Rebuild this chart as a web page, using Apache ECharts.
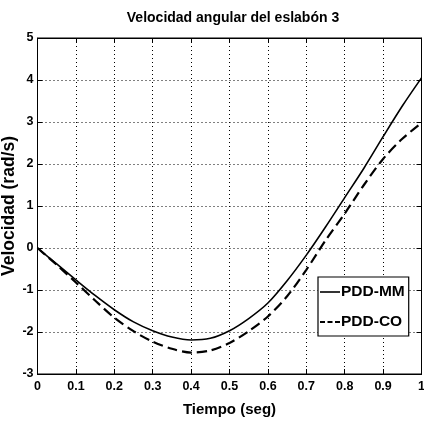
<!DOCTYPE html>
<html><head><meta charset="utf-8">
<script src="https://cdn.jsdelivr.net/npm/echarts@6/dist/echarts.min.js"></script>
<style>html,body{margin:0;padding:0;background:#fff}#c{width:424px;height:425px}</style>
</head><body><div id="c"></div>
<script>
var title = 'Velocidad angular del eslabón 3';
var xName = 'Tiempo (seg)';
var yName = 'Velocidad (rad/s)';
var time = [0,0.05,0.1,0.15,0.2,0.25,0.3,0.35,0.4,0.45,0.5,0.55,0.6,0.65,0.7,0.75,0.8,0.85,0.9,0.95,1.0];
var pddMM = [0,-0.38,-0.76,-1.13,-1.47,-1.76,-1.97,-2.12,-2.19,-2.15,-1.97,-1.68,-1.31,-0.78,-0.17,0.5,1.2,1.9,2.65,3.38,4.05];
var pddCO = [0,-0.40,-0.82,-1.25,-1.66,-1.98,-2.23,-2.40,-2.49,-2.44,-2.26,-1.98,-1.63,-1.15,-0.52,0.18,0.82,1.5,2.12,2.6,2.98];
var seriesNames = ['PDD-MM','PDD-CO'];

function pairs(xs, ys){ return xs.map(function(x,i){return [x, ys[i]];}); }
var narrow = '"Liberation Sans Narrow", "Arial Narrow", "Liberation Sans", Arial, sans-serif';
var chart = echarts.init(document.getElementById('c'));
var tickLabel = {color:'#000', fontFamily:narrow, fontWeight:'bold', fontSize:12.5};
var solidIcon = 'path://M0,4.2H20V5.8H0Z';
var dashIcon = 'path://M0,4H5V6H0ZM7.5,4H12.5V6H7.5ZM15,4H20V6H15Z';
chart.setOption({
  animation:false,
  backgroundColor:'#fff',
  title:{text:title, left:228, top:6, textAlign:'center',
    textStyle:{fontFamily:narrow, fontWeight:'bold', fontSize:14, color:'#000'}},
  grid:{left:37.5, right:2.5, top:38, bottom:51, show:true, borderColor:'#000', borderWidth:1,
    backgroundColor:'#fff', containLabel:false, outerBoundsMode:'none'},
  legend:{data:[{name:seriesNames[0], icon:solidIcon},{name:seriesNames[1], icon:dashIcon}],
    orient:'vertical', left:318, top:277,
    backgroundColor:'#fff', borderColor:'#000', borderWidth:1.2, padding:[7,4,6,2],
    itemWidth:20, itemHeight:10, itemGap:14,
    textStyle:{fontFamily:narrow, fontWeight:'bold', fontSize:15.5, color:'#000', padding:[0,0,0,-4]}},
  xAxis:[{type:'value', min:0, max:1, interval:0.1,
    name:xName, nameLocation:'middle', nameGap:28, nameMoveOverlap:false,
    nameTextStyle:{fontFamily:narrow, fontWeight:'bold', fontSize:15, color:'#000'},
    axisLine:{show:true, onZero:false, lineStyle:{color:'#000', width:1}},
    axisTick:{show:true, inside:true, length:5, lineStyle:{color:'#000'}},
    axisLabel:Object.assign({margin:6, formatter:function(v){return String(Math.round(v*10)/10);}}, tickLabel),
    splitLine:{show:true, lineStyle:{color:'#000', type:[1,3], width:1}}},
   {type:'value', position:'top', min:0, max:1, interval:0.1,
    axisLine:{show:true, onZero:false, lineStyle:{color:'#000'}},
    axisTick:{show:true, inside:true, length:5, lineStyle:{color:'#000'}},
    axisLabel:{show:false}, splitLine:{show:false}}],
  yAxis:[{type:'value', min:-3, max:5, interval:1,
    name:yName, nameLocation:'middle', nameGap:19, nameMoveOverlap:false,
    nameTextStyle:{fontFamily:'"Liberation Sans", Arial, sans-serif', fontWeight:'bold', fontSize:17.5, color:'#000'},
    axisLine:{show:true, onZero:false, lineStyle:{color:'#000', width:1}},
    axisTick:{show:true, inside:true, length:5, lineStyle:{color:'#000'}},
    axisLabel:Object.assign({margin:4}, tickLabel),
    splitLine:{show:true, lineStyle:{color:'#000', type:[1,3], width:1}}},
   {type:'value', position:'right', min:-3, max:5, interval:1,
    axisLine:{show:true, onZero:false, lineStyle:{color:'#000'}},
    axisTick:{show:true, inside:true, length:5, lineStyle:{color:'#000'}},
    axisLabel:{show:false}, splitLine:{show:false}}],
  series:[
    {name:seriesNames[0], type:'line', data:pairs(time,pddMM), smooth:0.3, symbol:'none', showSymbol:false,
     lineStyle:{color:'#000', width:1.6, type:'solid'}, itemStyle:{color:'#000'}},
    {name:seriesNames[1], type:'line', data:pairs(time,pddCO), smooth:0.3, symbol:'none', showSymbol:false,
     lineStyle:{color:'#000', width:2.2, type:[10,5]}, itemStyle:{color:'#000'}}
  ]
});
</script></body></html>
